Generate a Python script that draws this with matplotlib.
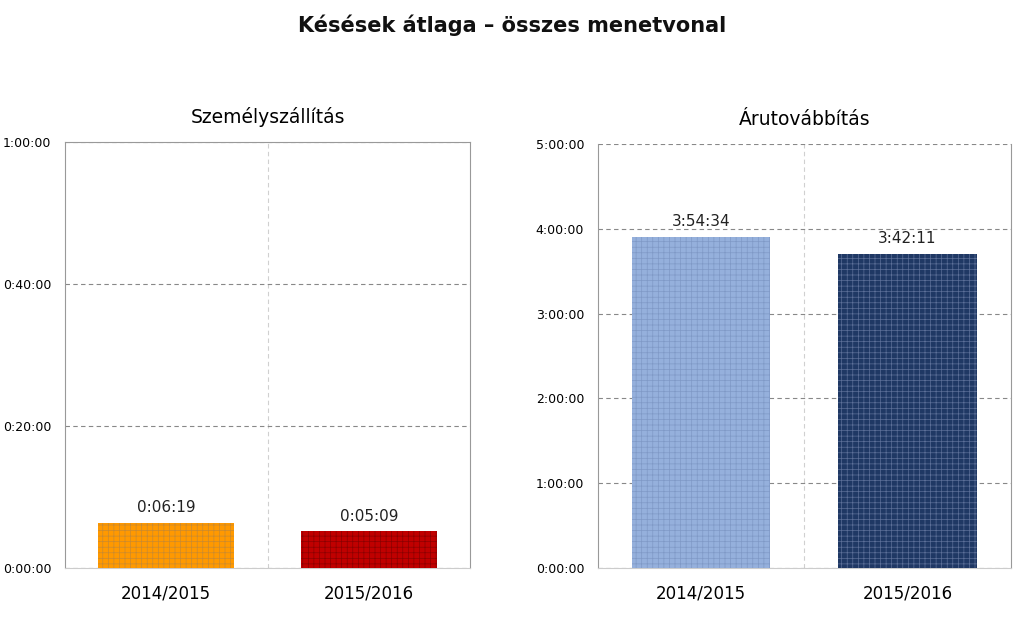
import matplotlib.pyplot as plt
from matplotlib.ticker import FuncFormatter, MultipleLocator
import numpy as np

plt.rcParams['font.family'] = ['DejaVu Sans']
plt.rcParams['hatch.linewidth'] = 0.5

# data (seconds)
years = ["2014/2015", "2015/2016"]
szemely = [6 * 60 + 19, 5 * 60 + 9]
aru = [3 * 3600 + 54 * 60 + 34, 3 * 3600 + 42 * 60 + 11]

szemely_colors = ["#FF9900", "#C00000"]
szemely_hatch = ["#C98A30", "#8A0000"]
aru_colors = ["#95B0DC", "#1F3864"]
aru_hatch = ["#7F99C6", "#5C6F98"]


def hms(v, pos=None):
    v = int(round(v))
    return "{}:{:02d}:{:02d}".format(v // 3600, (v % 3600) // 60, v % 60)


def draw(ax, vals, colors, hcolors, ymax, step, title, top_solid):
    X = np.arange(len(vals))
    for i in range(len(vals)):
        ax.bar(X[i], vals[i], width=0.67, color=colors[i], edgecolor=hcolors[i],
               linewidth=0, hatch="+++", zorder=3)
        ax.text(X[i], vals[i] + ymax * 0.018, hms(vals[i]), ha="center", va="bottom",
                fontsize=11, color="#222222", zorder=4)
    ax.set_xlim(-0.5, 1.5)
    ax.set_ylim(0, ymax)
    ax.yaxis.set_major_locator(MultipleLocator(step))
    ax.yaxis.set_major_formatter(FuncFormatter(hms))
    ax.set_xticks(X)
    ax.set_xticklabels(years, fontsize=12)
    ax.tick_params(axis="y", length=0, pad=10, labelsize=9)
    ax.tick_params(axis="x", length=0, pad=12)
    ax.grid(axis="y", linestyle=(0, (4, 3)), color="#888888", linewidth=0.8, zorder=1)
    ax.axvline(0.5, linestyle=(0, (4, 3)), color="#d0d0d0", linewidth=0.8, zorder=1)
    for s in ["left", "right", "top"]:
        ax.spines[s].set_color("#999999")
    ax.spines["bottom"].set_color("#cccccc")
    if not top_solid:
        ax.spines["top"].set_visible(False)
    ax.set_title(title, fontsize=13.5, pad=14)


fig = plt.figure(figsize=(10.24, 6.29), dpi=100)
ax1 = fig.add_axes([0.0635, 0.097, 0.3955, 0.677])
ax2 = fig.add_axes([0.584, 0.097, 0.403, 0.674])

draw(ax1, szemely, szemely_colors, szemely_hatch, 3600, 1200, "Személyszállítás", True)
draw(ax2, aru, aru_colors, aru_hatch, 18000, 3600, "Árutovábbítás", False)

fig.text(0.5, 0.96, "Késések átlaga – összes menetvonal", ha="center", va="center",
         fontsize=15, fontweight="bold", color="#111111")

plt.savefig("out.png", dpi=100)
